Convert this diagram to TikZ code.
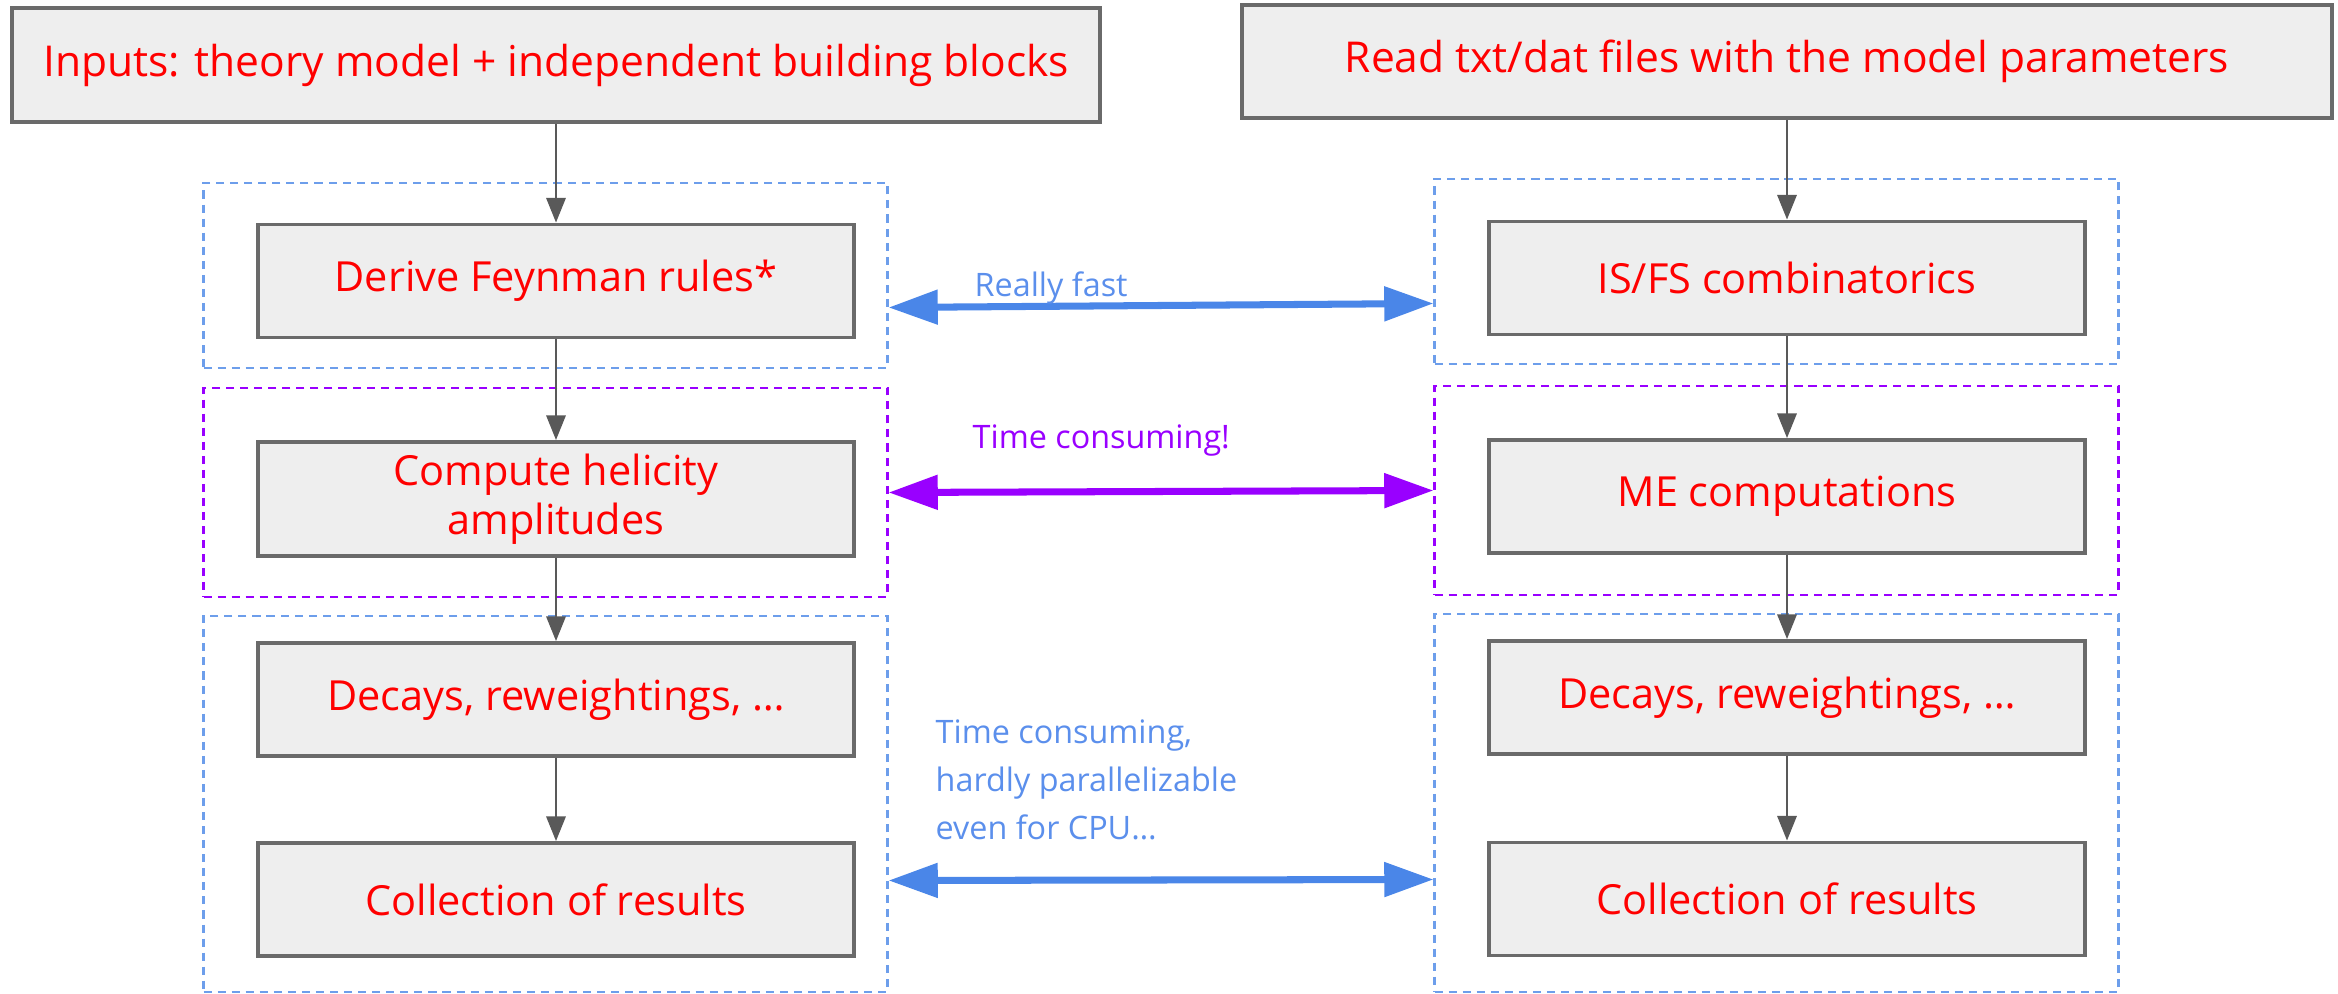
\documentclass[tikz,border=0pt]{standalone}
\usepackage{fontspec}
\setmainfont{Open Sans}
\usetikzlibrary{arrows.meta}

\definecolor{boxred}{HTML}{FF0000}
\definecolor{boxfill}{HTML}{EEEEEE}
\definecolor{boxline}{HTML}{6A6A6A}
\definecolor{flowgray}{HTML}{595959}
\definecolor{fastblue}{HTML}{4A86E8}
\definecolor{grpblue}{HTML}{6D9EEB}
\definecolor{lblblue}{HTML}{5B8FEC}
\definecolor{slowpurple}{HTML}{9900FF}

\tikzset{
    blk/.style={draw=boxline, line width=1.1pt, fill=boxfill, text=boxred,
        minimum width=5.96cm, minimum height=1.13cm, align=center,
        font=\fontsize{11.8}{14}\selectfont},
    grp/.style={dash pattern=on 2.3pt off 1.7pt, line width=0.6pt,
        minimum width=6.84cm},
    flow/.style={-{Triangle[length=7pt,width=5.5pt]}, draw=flowgray, line width=0.6pt},
    link/.style={{Triangle[length=14pt,width=9.5pt]}-{Triangle[length=14pt,width=9.5pt]},
        line width=2pt},
    lbl/.style={inner sep=0pt, anchor=west, font=\fontsize{9.2}{13.6}\selectfont},
}

\begin{document}
\begin{tikzpicture}

    \useasboundingbox (0,0) rectangle (23.38,-9.94);

    \begin{scope}[]
    \node[grp, draw=grpblue, minimum height=1.85cm] (fastL) at (5.455,-2.755) {};
    \node[grp, draw=slowpurple, minimum height=2.09cm] (slowL) at (5.455,-4.925) {};
    \node[grp, draw=grpblue, minimum height=3.76cm] (serL) at (5.455,-8.04) {};

    \node[blk, minimum width=10.88cm, minimum height=1.14cm, font=\fontsize{12.1}{14}\selectfont]
        (inL) at (5.56,-0.65) {Inputs: theory model + independent building blocks};
    \node[blk] (derive) at (5.56,-2.81) {Derive Feynman rules*};
    \node[blk] (helicity) at (5.56,-4.99) {Compute helicity\\amplitudes\vphantom{y}};
    \node[blk] (decaysL) at (5.56,-6.995) {Decays, reweightings, …};
    \node[blk] (collectL) at (5.56,-8.995) {Collection of results};

    \draw[flow] (inL) -- (derive);
    \draw[flow] (derive) -- (helicity);
    \draw[flow] (helicity) -- (decaysL);
    \draw[flow] (decaysL) -- (collectL);
    \end{scope}

    \begin{scope}[]
    \node[grp, draw=grpblue, minimum height=1.85cm] (fastR) at (17.765,-2.715) {};
    \node[grp, draw=slowpurple, minimum height=2.09cm] (slowR) at (17.765,-4.905) {};
    \node[grp, draw=grpblue, minimum height=3.78cm] (serR) at (17.765,-8.03) {};

    \node[blk, minimum width=10.9cm, font=\fontsize{12.1}{14}\selectfont]
        (inR) at (17.87,-0.615) {Read txt/dat files with the model parameters};
    \node[blk] (isfs) at (17.87,-2.78) {IS/FS combinatorics};
    \node[blk] (me) at (17.87,-4.965) {ME computations};
    \node[blk] (decaysR) at (17.87,-6.975) {Decays, reweightings, …};
    \node[blk] (collectR) at (17.87,-8.99) {Collection of results};

    \draw[flow] (inR) -- (isfs);
    \draw[flow] (isfs) -- (me);
    \draw[flow] (me) -- (decaysR);
    \draw[flow] (decaysR) -- (collectR);
    \end{scope}

    \draw[link, draw=fastblue] ([yshift=-0.32cm]fastL.east) -- ([yshift=-0.32cm]fastR.west);
    \draw[link, draw=slowpurple] (slowL.east) -- (slowR.west);
    \draw[link, draw=fastblue] ([yshift=-0.765cm]serL.east) -- ([yshift=-0.765cm]serR.west);

    \node[lbl, text=lblblue] (fastlbl) at (9.74,-2.88) {Really fast};
    \node[lbl, text=slowpurple] (slowlbl) at (9.72,-4.41) {Time consuming!};
    \node[lbl, text=lblblue, align=left] (serlbl) at (9.35,-7.8)
        {Time consuming,\\hardly parallelizable\\even for CPU…};

\end{tikzpicture}
\end{document}
